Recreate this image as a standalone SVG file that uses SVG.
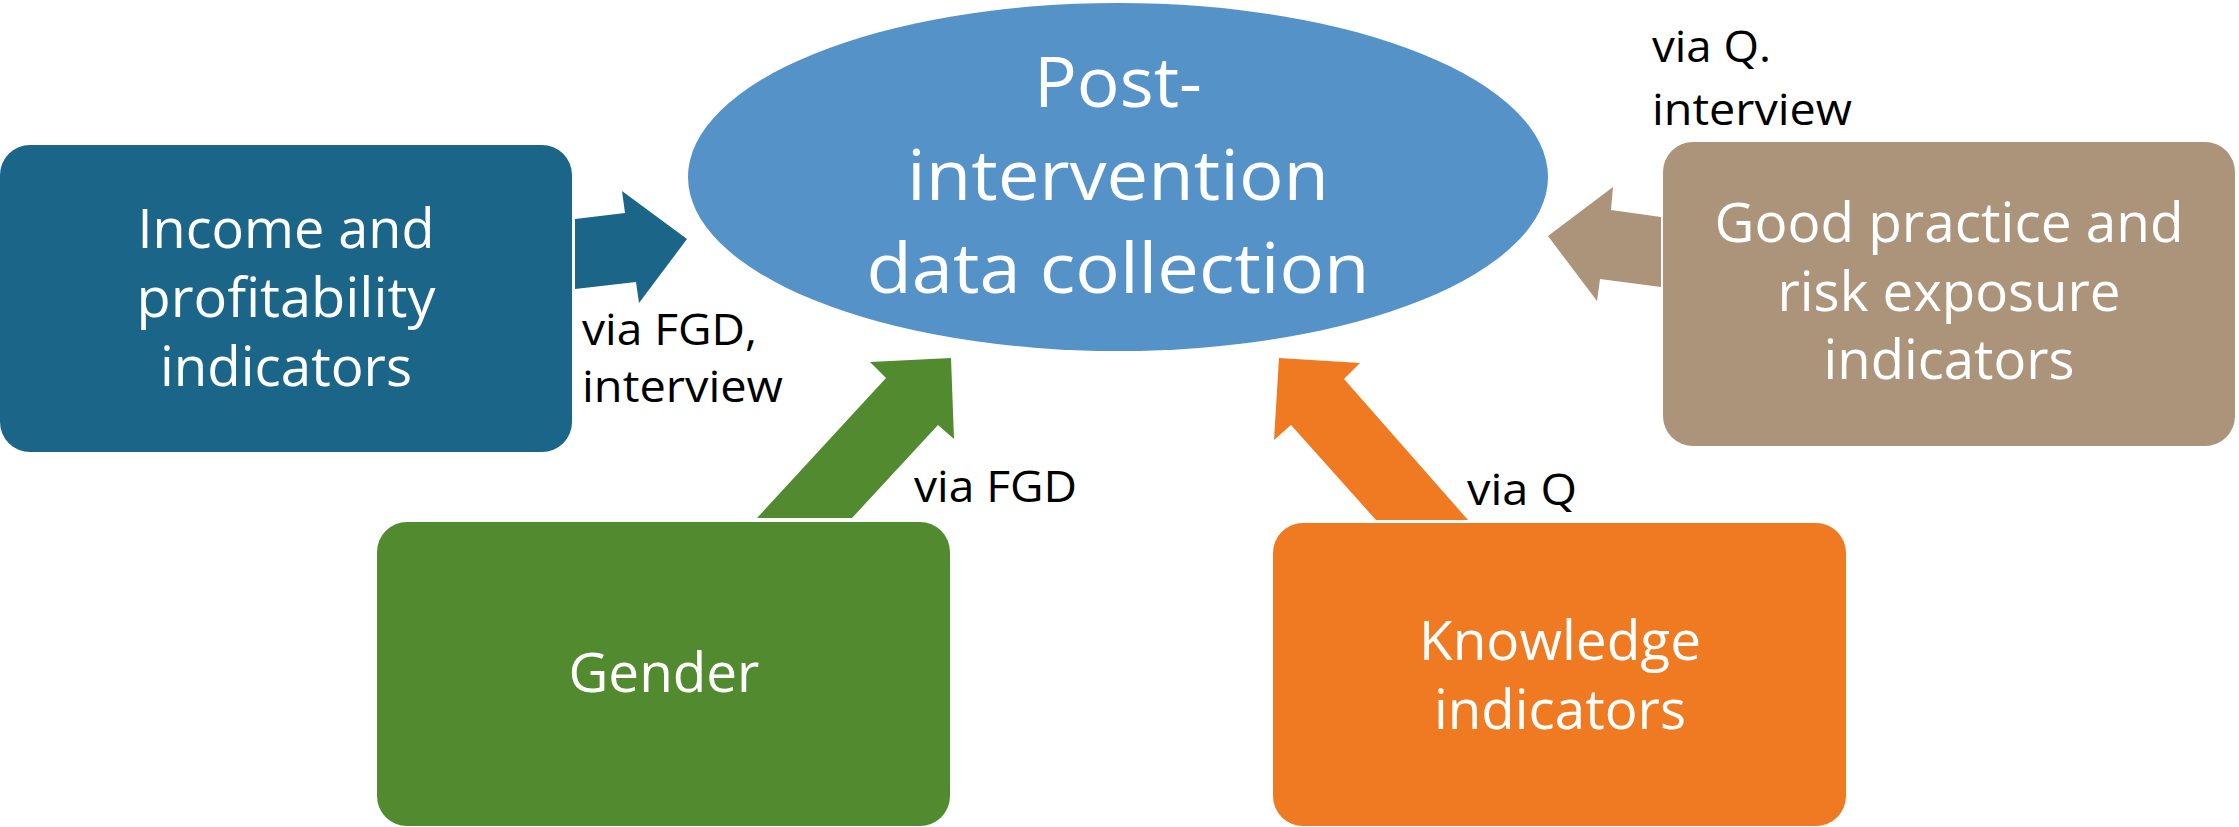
<svg xmlns="http://www.w3.org/2000/svg" width="2239" height="827" viewBox="0 0 2239 827">
  <style>
    .node-text { font-family: "Open Sans", "Noto Sans", sans-serif; fill: #ffffff; text-anchor: middle; }
    .box-text { font-size: 55px; }
    .hub-text { font-size: 70px; }
    .label { font-family: "Open Sans", "Noto Sans", sans-serif; font-size: 43px; fill: #000000; }
    .income { fill: #1b6589; }
    .hub { fill: #5592c8; }
    .practice { fill: #ab9479; }
    .gender { fill: #518a2f; }
    .knowledge { fill: #ef7a21; }
  </style>
  <rect width="2239" height="827" fill="#ffffff"/>

  <!-- block arrows feeding the central collection step -->
  <g id="connectors">
    <polygon class="income" points="575,219 625,213 622,191 687,239 639,303 636,282 575,289"/>
    <polygon class="practice" points="1661,217 1611,210 1613,187 1548,236 1597,301 1600,279 1661,287"/>
    <polygon class="gender" points="757,518 852,518 938,425 954,439 951,358 870,362 886,378"/>
    <polygon class="knowledge" points="1376,520 1468,520 1344,379 1360,363 1279,358 1274,440 1291,425"/>
  </g>

  <g id="hub">
    <ellipse class="hub" cx="1118" cy="177" rx="430" ry="174"/>
    <text class="node-text hub-text" x="1118" y="107" textLength="168" lengthAdjust="spacingAndGlyphs">Post-</text>
    <text class="node-text hub-text" x="1118" y="200" textLength="422" lengthAdjust="spacingAndGlyphs">intervention</text>
    <text class="node-text hub-text" x="1118" y="293" textLength="503" lengthAdjust="spacingAndGlyphs">data collection</text>
  </g>

  <g id="income">
    <rect class="income" x="0" y="145" width="572" height="307" rx="30" ry="30"/>
    <text class="node-text box-text" x="286" y="248" textLength="297" lengthAdjust="spacingAndGlyphs">Income and</text>
    <text class="node-text box-text" x="286" y="317" textLength="299" lengthAdjust="spacingAndGlyphs">profitability</text>
    <text class="node-text box-text" x="286" y="386" textLength="252" lengthAdjust="spacingAndGlyphs">indicators</text>
  </g>

  <g id="practice">
    <rect class="practice" x="1663" y="142" width="572" height="304" rx="30" ry="30"/>
    <text class="node-text box-text" x="1949" y="242" textLength="469" lengthAdjust="spacingAndGlyphs">Good practice and</text>
    <text class="node-text box-text" x="1949" y="311" textLength="343" lengthAdjust="spacingAndGlyphs">risk exposure</text>
    <text class="node-text box-text" x="1949" y="379" textLength="251" lengthAdjust="spacingAndGlyphs">indicators</text>
  </g>

  <g id="gender">
    <rect class="gender" x="377" y="522" width="573" height="304" rx="30" ry="30"/>
    <text class="node-text box-text" x="664" y="692" textLength="191" lengthAdjust="spacingAndGlyphs">Gender</text>
  </g>

  <g id="knowledge">
    <rect class="knowledge" x="1273" y="523" width="573" height="303" rx="30" ry="30"/>
    <text class="node-text box-text" x="1560" y="660" textLength="282" lengthAdjust="spacingAndGlyphs">Knowledge</text>
    <text class="node-text box-text" x="1560" y="729" textLength="252" lengthAdjust="spacingAndGlyphs">indicators</text>
  </g>

  <!-- method labels beside each arrow -->
  <g id="labels">
    <text class="label" x="582" y="345" textLength="175" lengthAdjust="spacingAndGlyphs">via FGD,</text>
    <text class="label" x="582" y="402" textLength="201" lengthAdjust="spacingAndGlyphs">interview</text>
    <text class="label" x="1652" y="62" textLength="119" lengthAdjust="spacingAndGlyphs">via Q.</text>
    <text class="label" x="1652" y="125" textLength="200" lengthAdjust="spacingAndGlyphs">interview</text>
    <text class="label" x="914" y="502" textLength="163" lengthAdjust="spacingAndGlyphs">via FGD</text>
    <text class="label" x="1467" y="505" textLength="110" lengthAdjust="spacingAndGlyphs">via Q</text>
  </g>
</svg>
